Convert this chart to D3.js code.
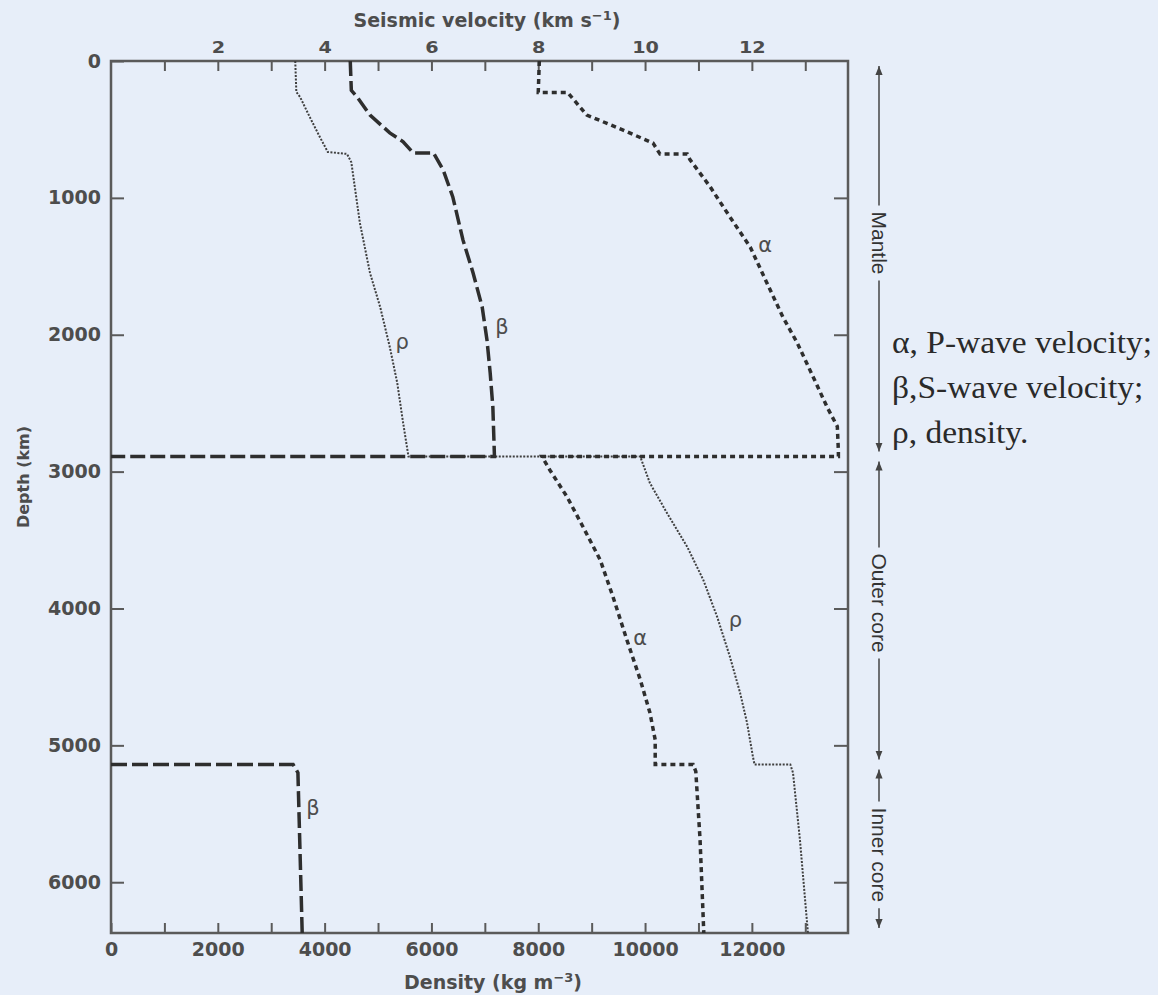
<!DOCTYPE html>
<html>
<head>
<meta charset="utf-8">
<script src="https://cdn.jsdelivr.net/npm/d3@7"></script>
<style>
  body { margin: 0; background: #e7eef9; }
  svg { display: block; }
</style>
</head>
<body>
<svg id="chart" width="1158" height="995"></svg>
<script>
// depth in km, velocities in km/s, density in 1000 kg/m3 (shares the x scale)
var alphaDepth = [0, 230, 230, 395, 505, 600, 680, 680, 720, 920, 1140, 1360, 1620, 1870, 2060, 2310, 2530, 2670, 2850, 2890,
                  2890, 2990, 3185, 3405, 3645, 3915, 4230, 4520, 4760, 4960, 5140, 5140, 5190, 5690, 6371];
var alphaValue = [8.02, 8.0, 8.55, 8.91, 9.59, 10.15, 10.28, 10.79, 10.84, 11.22, 11.59, 11.97, 12.28, 12.58, 12.85, 13.15, 13.41, 13.60, 13.62, 13.62,
                  8.07, 8.22, 8.54, 8.84, 9.16, 9.40, 9.66, 9.91, 10.09, 10.19, 10.19, 10.90, 10.95, 11.03, 11.10];

// S waves vanish in the liquid outer core (beta = 0)
var betaMantleDepth = [0, 215, 263, 395, 525, 590, 672, 672, 796, 993, 1307, 1549, 1797, 2038, 2279, 2527, 2890, 2890];
var betaMantleValue = [4.48, 4.50, 4.61, 4.85, 5.22, 5.47, 5.66, 6.04, 6.22, 6.40, 6.59, 6.78, 6.95, 7.04, 7.10, 7.15, 7.18, 0];
var betaInnerDepth = [5140, 5140, 5200, 6371];
var betaInnerValue = [0, 3.41, 3.50, 3.58];

var rhoDepth = [0, 226, 263, 416, 555, 665, 679, 740, 1183, 1549, 1797, 2089, 2352, 2644, 2890,
                2890, 3083, 3302, 3550, 3791, 4061, 4354, 4617, 4836, 5084, 5140, 5140, 5200, 5690, 6371];
var rhoValue = [3.45, 3.47, 3.54, 3.73, 3.91, 4.06, 4.42, 4.50, 4.66, 4.85, 5.04, 5.22, 5.36, 5.47, 5.57,
                9.91, 10.09, 10.41, 10.79, 11.09, 11.35, 11.59, 11.78, 11.91, 12.02, 12.05, 12.72, 12.77, 12.90, 13.05];

// curve labels (value, depth)
var labelText = ["α", "α", "β", "β", "ρ", "ρ"];
var labelValue = [12.25, 9.91, 7.32, 3.78, 5.45, 11.69];
var labelDepth = [1345, 4215, 1943, 5456, 2053, 4083];

// earth layers
var layerNames = ["Mantle", "Outer core", "Inner core"];
var layerTop = [0, 2890, 5140];
var layerBottom = [2890, 5140, 6371];
var layerLabelDepth = [1330, 3960, 5800];

var velocityTicks = d3.range(1, 14);
var densityTicks = d3.range(0, 14000, 1000);
var depthTicks = d3.range(0, 7000, 1000);

var legendLines = ["α, P-wave velocity;", "β,S-wave velocity;", "ρ, density."];

var svg = d3.select("#chart");
var x = d3.scaleLinear().domain([0, 13.8]).range([111, 848]);
var xDensity = d3.scaleLinear().domain([0, 13800]).range([111, 848]);
var y = d3.scaleLinear().domain([0, 6371]).range([61, 933]);

var ink = "#4d4d4d";

function zip(ds, vs) { return ds.map(function(d, i) { return [d, vs[i]]; }); }

var line = d3.line()
  .x(function(d) { return x(d[1]); })
  .y(function(d) { return y(d[0]); });

// axes
function styleAxis(g) {
  g.select(".domain").remove();
  g.selectAll(".tick line").attr("stroke", "#5a5a5a").attr("stroke-width", 2);
  g.selectAll(".tick text").attr("fill", ink).attr("font-family", "DejaVu Sans").attr("font-weight", "bold");
}

var gTop = svg.append("g").attr("transform", "translate(0,61)")
  .call(d3.axisTop(x).tickValues(velocityTicks).tickSize(-10).tickPadding(8)
    .tickFormat(function(d) { return d % 2 ? "" : d; }))
  .call(styleAxis);
gTop.selectAll(".tick text").attr("font-size", 16).attr("transform", "scale(1.2,1)");

svg.append("g").attr("transform", "translate(0,933)")
  .call(d3.axisBottom(xDensity).tickValues(densityTicks).tickSize(-10).tickPadding(10)
    .tickFormat(function(d) { return d % 2000 ? "" : d; }))
  .call(styleAxis)
  .selectAll(".tick text").attr("font-size", 19);

svg.append("g").attr("transform", "translate(111,0)")
  .call(d3.axisLeft(y).tickValues(depthTicks).tickSize(-13).tickPadding(10).tickFormat(d3.format("d")))
  .call(styleAxis)
  .selectAll(".tick text").attr("font-size", 19);

svg.append("g").attr("transform", "translate(848,0)")
  .call(d3.axisRight(y).tickValues(depthTicks.slice(1)).tickSize(-14).tickFormat(""))
  .call(styleAxis);

// frame
svg.append("rect")
  .attr("x", x(0)).attr("y", y(0))
  .attr("width", x.range()[1] - x(0)).attr("height", y(6371) - y(0))
  .attr("fill", "none").attr("stroke", "#5a5a5a").attr("stroke-width", 2.5);

// axis titles
var topTitle = svg.append("text").attr("x", 487).attr("y", 27)
  .attr("text-anchor", "middle").attr("font-family", "DejaVu Sans").attr("font-weight", "bold")
  .attr("font-size", 19).attr("fill", ink);
topTitle.append("tspan").text("Seismic velocity (km s");
topTitle.append("tspan").attr("dy", -7).attr("font-size", 13).text("−1");
topTitle.append("tspan").attr("dy", 7).text(")");

var botTitle = svg.append("text").attr("x", 493).attr("y", 989)
  .attr("text-anchor", "middle").attr("font-family", "DejaVu Sans").attr("font-weight", "bold")
  .attr("font-size", 19).attr("fill", ink);
botTitle.append("tspan").text("Density (kg m");
botTitle.append("tspan").attr("dy", -7).attr("font-size", 13).text("−3");
botTitle.append("tspan").attr("dy", 7).text(")");

svg.append("text").attr("transform", "translate(29,477) rotate(-90)")
  .attr("text-anchor", "middle").attr("font-family", "DejaVu Sans").attr("font-weight", "bold")
  .attr("font-size", 16).attr("fill", ink).text("Depth (km)");

// curves
var curves = svg.append("g").attr("fill", "none");

curves.append("path")
  .attr("d", line(zip(rhoDepth, rhoValue)))
  .attr("stroke", "#3f3f3f").attr("stroke-width", 2).attr("stroke-dasharray", "2,1.5");

curves.append("path")
  .attr("d", line(zip(alphaDepth, alphaValue)))
  .attr("stroke", "#2e2e2e").attr("stroke-width", 3.5).attr("stroke-dasharray", "5,4");

curves.append("path")
  .attr("d", line(zip(betaMantleDepth, betaMantleValue)))
  .attr("stroke", "#2e2e2e").attr("stroke-width", 3.5).attr("stroke-dasharray", "15,5");

curves.append("path")
  .attr("d", line(zip(betaInnerDepth, betaInnerValue)))
  .attr("stroke", "#2e2e2e").attr("stroke-width", 3.5).attr("stroke-dasharray", "16,5");

// curve labels
svg.append("g").selectAll("text")
  .data(labelText)
  .join("text")
  .attr("x", function(d, i) { return x(labelValue[i]); })
  .attr("y", function(d, i) { return y(labelDepth[i]); })
  .attr("text-anchor", "middle").attr("dominant-baseline", "central")
  .attr("font-family", "DejaVu Sans").attr("font-size", 21).attr("fill", ink)
  .text(function(d) { return d; });

// layer arrows
var defs = svg.append("defs");
defs.append("marker").attr("id", "arrow")
  .attr("viewBox", "0 -5 10 10").attr("refX", 10).attr("refY", 0)
  .attr("markerWidth", 9).attr("markerHeight", 9).attr("markerUnits", "userSpaceOnUse")
  .attr("orient", "auto-start-reverse")
  .append("path").attr("d", "M0,-4L10,0L0,4Z").attr("fill", "#444");

var arrowX = 879;
layerNames.forEach(function(name, i) {
  var top = y(layerTop[i]) + 5, bottom = y(layerBottom[i]) - 5, mid = y(layerLabelDepth[i]);
  var t = svg.append("text")
    .attr("transform", "translate(" + arrowX + "," + mid + ") rotate(90)")
    .attr("text-anchor", "middle").attr("dominant-baseline", "central")
    .attr("font-family", "Liberation Sans").attr("font-size", 21).attr("fill", "#333")
    .text(name);
  var half = t.node().getComputedTextLength() / 2 + 6;
  svg.append("line").attr("x1", arrowX).attr("x2", arrowX).attr("y1", mid - half).attr("y2", top)
    .attr("stroke", "#444").attr("stroke-width", 1.5).attr("marker-end", "url(#arrow)");
  svg.append("line").attr("x1", arrowX).attr("x2", arrowX).attr("y1", mid + half).attr("y2", bottom)
    .attr("stroke", "#444").attr("stroke-width", 1.5).attr("marker-end", "url(#arrow)");
});

// legend
svg.append("g").selectAll("text")
  .data(legendLines)
  .join("text")
  .attr("transform", function(d, i) { return "translate(892," + (353 + i * 45) + ") scale(1.08,1)"; })
  .attr("font-family", "Liberation Serif").attr("font-size", 31).attr("fill", "#2a2a2a")
  .text(function(d) { return d; });
</script>
</body>
</html>
